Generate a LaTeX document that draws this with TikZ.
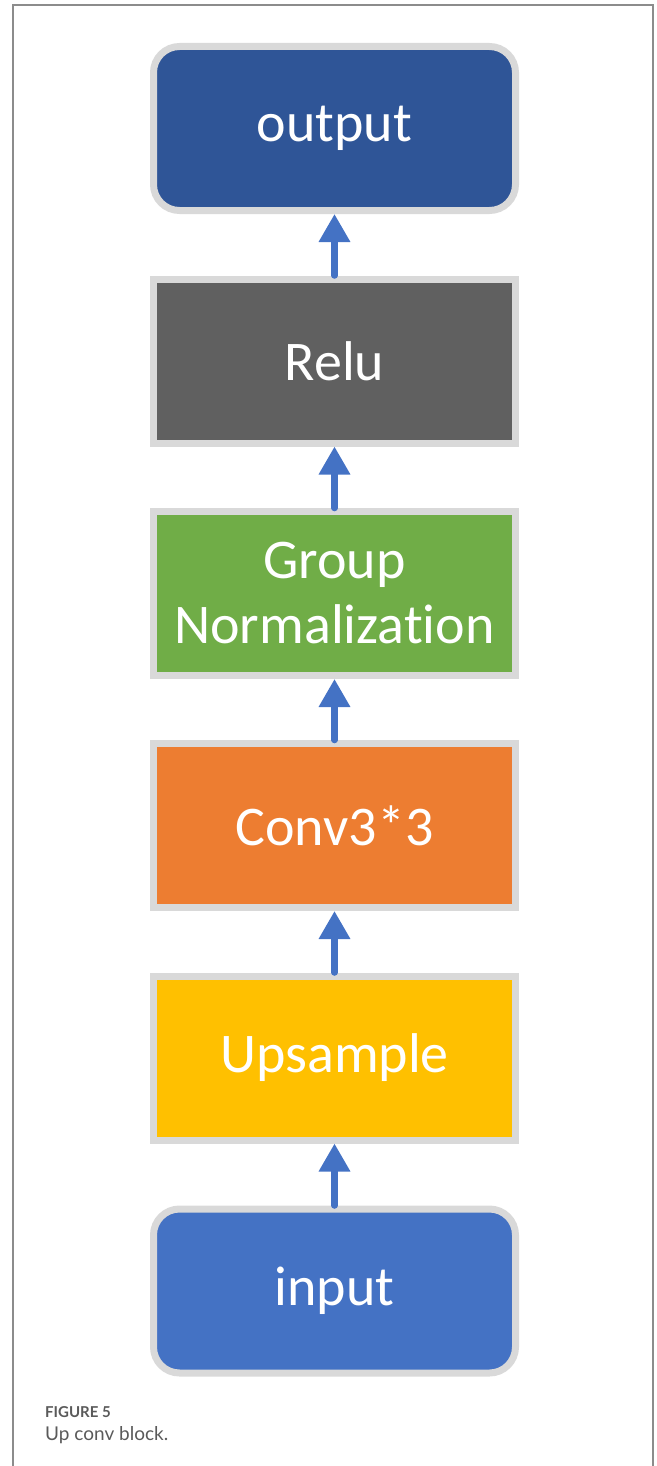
\documentclass[tikz,border=0pt]{standalone}
\usepackage{fontspec}
\setmainfont[Ligatures=NoCommon]{Carlito}
\newfontfamily\capfont{Lato}
\usetikzlibrary{arrows.meta}

\definecolor{rimgray}{HTML}{D9D9D9}
\definecolor{outblue}{HTML}{2F5597}
\definecolor{inblue}{HTML}{4472C4}
\definecolor{reluGray}{HTML}{606060}
\definecolor{gnGreen}{HTML}{70AD47}
\definecolor{convOrange}{HTML}{ED7D31}
\definecolor{upYellow}{HTML}{FFC000}
\definecolor{frameGray}{HTML}{8C8C8C}
\definecolor{capGray}{HTML}{5A5A5A}

\begin{document}
\begin{tikzpicture}[x=1pt,y=-1pt]
\tikzstyle{every node}+=[inner sep=0pt]
\tikzstyle{blk}=[draw=rimgray, line width=7pt, minimum width=362pt, minimum height=164pt,
  text=white, align=center, font=\fontsize{56}{65}\selectfont]
\tikzstyle{io}=[blk, rounded corners=26pt]
\tikzstyle{up}=[draw=inblue, line width=6.5pt, line cap=round, -{Triangle[width=30pt,length=28pt]}]
\useasboundingbox (0,0) rectangle (656,1466);
% frame
\draw [frameGray, line width=2pt] (13,1466) -- (13,5) -- (653,5) -- (653,1466);
% blocks
\node [io, fill=outblue] (output) at (334.5,128.5) {output};
\node [blk, fill=reluGray] (relu) at (334.5,361) {Relu};
\node [blk, fill=gnGreen] (gn) at (334.5,593.5) {Group\\Normalization};
\node [blk, fill=convOrange] (conv) at (334.5,825.5) {Conv3*3};
\node [blk, fill=upYellow] (upsample) at (334.5,1058) {Upsample};
\node [io, fill=inblue] (input) at (334.5,1291) {input};
% arrows
\draw [up] (input.north) -- (upsample.south);
\draw [up] (upsample.north) -- (conv.south);
\draw [up] (conv.north) -- (gn.south);
\draw [up] (gn.north) -- (relu.south);
\draw [up] (relu.north) -- (output.south);
% caption
\node [anchor=base west, text=capGray, font=\capfont\bfseries\fontsize{15}{17}\selectfont] (fig) at (45,1417) {FIGURE 5};
\node [anchor=base west, text=capGray, font=\capfont\fontsize{19}{22}\selectfont] (cap) at (45,1440) {Up conv block.};
\end{tikzpicture}
\end{document}
